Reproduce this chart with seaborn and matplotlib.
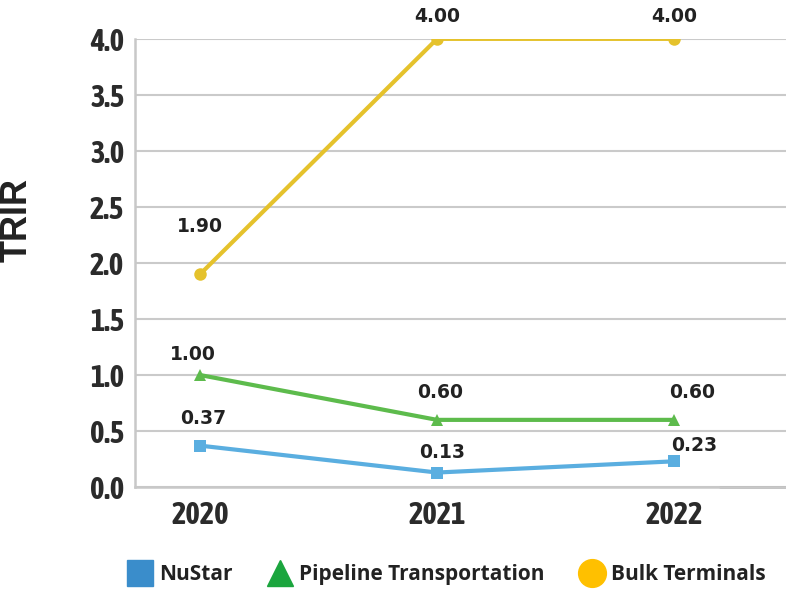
import matplotlib as mpl
import matplotlib.pyplot as plt
import seaborn as sns
import pandas as pd
from matplotlib import font_manager
from matplotlib.lines import Line2D
from matplotlib.ticker import FixedLocator

mpl.use("Agg")

years = ["2020", "2021", "2022"]
nustar = [0.37, 0.13, 0.23]
pipeline = [1.00, 0.60, 0.60]
bulk = [1.90, 4.00, 4.00]
series_names = ["NuStar", "Pipeline Transportation", "Bulk Terminals"]

line_cols = ["#5AAEE0", "#5DBB4C", "#E5C22C"]
legend_cols = ["#3A8DCB", "#1BA53E", "#FFC000"]
markers = ["s", "^", "o"]

# label offsets in points (dx, dy)
label_offsets = {
    "NuStar": [(2, 19.5), (3.6, 14.5), (14.4, 11.5)],
    "Pipeline Transportation": [(-5, 15), (2, 20), (13, 20)],
    "Bulk Terminals": [(0, 34.5), (0, 16), (0, 16)],
}

rows = []
for name, vals in zip(series_names, [nustar, pipeline, bulk]):
    for y, v in zip(years, vals):
        rows.append({"year": y, "TRIR": v, "series": name})
df = pd.DataFrame(rows)

# look for a condensed face with a bold weight for the tick labels
bold_narrow = sorted({
    f.name for f in font_manager.fontManager.ttflist
    if ("Narrow" in f.name or "Condensed" in f.name)
    and (f.weight in ("bold", "heavy", "black", "extra bold", "semibold", "demibold")
         or (isinstance(f.weight, int) and f.weight >= 600))
})
if bold_narrow:
    tick_family = [bold_narrow[0]]
    tick_size = 22
else:
    tick_family = ["Liberation Sans"]
    tick_size = 18

sns.set_style("white")
plt.rcParams["font.family"] = tick_family + ["DejaVu Sans"]

fig = plt.figure(figsize=(7.86, 5.89), dpi=100)
ax = fig.add_axes([0.172, 0.173, 0.828, 0.761])

sns.lineplot(
    data=df, x="year", y="TRIR", hue="series", style="series",
    palette=line_cols, markers=markers, dashes=False, linewidth=3,
    markersize=9, markeredgewidth=0, ax=ax, legend=False, sort=False,
)

for name, vals in zip(series_names, [nustar, pipeline, bulk]):
    for i, v in enumerate(vals):
        ax.annotate(f"{v:.2f}", (i, v), xytext=label_offsets[name][i],
                    textcoords="offset points", ha="center", va="center",
                    fontsize=13.5, fontweight="bold", color="#222222",
                    family=["DejaVu Sans"])

ax.set_xlim(-0.274, 2.473)
ax.set_ylim(0, 4.0)
ax.set_yticks([0, 0.5, 1.0, 1.5, 2.0, 2.5, 3.0, 3.5, 4.0])
ax.set_yticklabels([f"{t:.1f}" for t in ax.get_yticks()])
ax.yaxis.grid(True, color="#cacaca", linewidth=1.5)
ax.set_axisbelow(True)
for s in ["top", "right"]:
    ax.spines[s].set_visible(False)
for s in ["left", "bottom"]:
    ax.spines[s].set_color("#c8c8c8")
    ax.spines[s].set_linewidth(1.8)
# darker stub at the right end of the baseline
ax.axhline(0, xmin=0.898, xmax=1.0, color="#a8a8a8", linewidth=1.8, clip_on=False)

ax.tick_params(axis="y", length=0, pad=8, labelsize=tick_size)
ax.tick_params(axis="x", length=0, pad=9, labelsize=tick_size)
for lbl in ax.get_xticklabels() + ax.get_yticklabels():
    lbl.set_fontweight("bold")
    lbl.set_color("#2b2b2b")
ax.xaxis.set_minor_locator(FixedLocator([0.5, 1.5]))
ax.tick_params(axis="x", which="minor", direction="in", length=8,
               width=1.2, color="#5AAEE0")

ax.set_xlabel("")
ax.set_ylabel("TRIR", fontsize=26, fontweight="bold",
              family=["Liberation Sans", "DejaVu Sans"], color="#222222")
ax.yaxis.set_label_coords(-0.155, 0.596)

handles = [
    Line2D([], [], linestyle="", marker=m, color=c, markersize=ms)
    for m, c, ms in zip(markers, legend_cols, [19, 19, 20])
]
leg = fig.legend(handles, series_names, loc="center left",
                 bbox_to_anchor=(0.165, 0.024), ncol=3, frameon=False,
                 handlelength=1.0, handletextpad=0.4, columnspacing=1.8,
                 borderpad=0, borderaxespad=0,
                 prop={"family": ["Open Sans", "DejaVu Sans"],
                       "weight": "bold", "size": 15})
for t in leg.get_texts():
    t.set_color("#222222")

fig.savefig("out.png", dpi=100)
